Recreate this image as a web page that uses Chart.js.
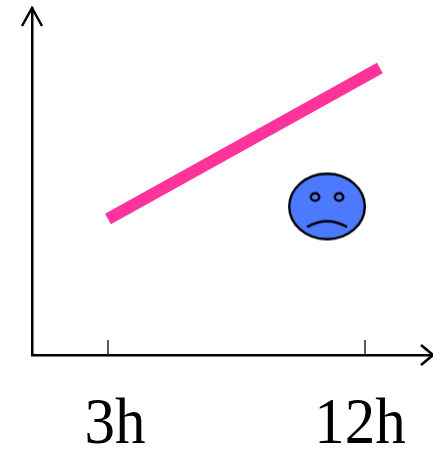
<!DOCTYPE html>
<html>
<head>
<meta charset="utf-8">
<script src="https://cdn.jsdelivr.net/npm/chart.js@4"></script>
<style>
  html, body { margin: 0; padding: 0; background: #fff; overflow: hidden; }
  canvas { display: block; }
</style>
</head>
<body>
<canvas id="myChart" width="433" height="449"></canvas>
<script>
const hours = [3, 12.52];
const values = [39.2, 82.7];
const faceHours = [10.67];
const faceValues = [42.8];
const tickHours = [3, 12];
const tickLabels = ['3h', '12h'];

// sad face used as the point image
const makeFace = () => {
	const c = document.createElement('canvas');
	c.width = 82;
	c.height = 72;
	const g = c.getContext('2d');
	g.translate(41, 36);
	g.lineWidth = 2.4;
	g.strokeStyle = '#000';
	g.fillStyle = '#4d79ff';
	g.beginPath();
	g.ellipse(0, 0, 37.8, 32.8, 0, 0, Math.PI * 2);
	g.fill();
	g.stroke();
	g.beginPath();
	g.ellipse(-12, -9.5, 4.2, 3.8, 0, 0, Math.PI * 2);
	g.stroke();
	g.beginPath();
	g.ellipse(12, -9.5, 4.2, 3.8, 0, 0, Math.PI * 2);
	g.stroke();
	g.beginPath();
	g.moveTo(-20, 20.5);
	g.quadraticCurveTo(0, 9, 20, 20.5);
	g.stroke();
	return c;
};

// inward ticks, the arrow heads and the hour labels
const axisExtras = {
	id: 'axisExtras',
	afterDraw(chart) {
		const { ctx, chartArea, scales } = chart;
		const base = chartArea.bottom;
		const left = chartArea.left;

		ctx.save();
		ctx.strokeStyle = '#222';
		ctx.lineWidth = 1.5;
		tickHours.forEach(h => {
			const x = scales.x.getPixelForValue(h);
			ctx.beginPath();
			ctx.moveTo(x, base);
			ctx.lineTo(x, base - 15);
			ctx.stroke();
		});

		ctx.strokeStyle = '#000';
		ctx.lineWidth = 2.5;
		ctx.beginPath();
		ctx.moveTo(left - 10, chartArea.top + 18);
		ctx.lineTo(left, chartArea.top);
		ctx.lineTo(left + 10, chartArea.top + 18);
		ctx.stroke();
		ctx.beginPath();
		ctx.moveTo(chartArea.right - 12, base - 10);
		ctx.lineTo(chartArea.right, base);
		ctx.lineTo(chartArea.right - 12, base + 10);
		ctx.stroke();

		// the reference text is a little stretched vertically
		ctx.fillStyle = '#000';
		ctx.font = '61px "Liberation Serif"';
		ctx.textAlign = 'center';
		ctx.textBaseline = 'alphabetic';
		const shift = [7, -5];
		tickLabels.forEach((t, i) => {
			ctx.save();
			ctx.translate(scales.x.getPixelForValue(tickHours[i]) + shift[i], 443);
			ctx.scale(1, 1.08);
			ctx.fillText(t, 0, 0);
			ctx.restore();
		});
		ctx.restore();
	}
};

new Chart(document.getElementById('myChart'), {
	type: 'scatter',
	data: {
		datasets: [
			{
				data: hours.map((h, i) => ({ x: h, y: values[i] })),
				showLine: true,
				borderColor: '#ff3399',
				borderWidth: 12,
				borderCapStyle: 'butt',
				pointRadius: 0
			},
			{
				data: faceHours.map((h, i) => ({ x: h, y: faceValues[i] })),
				pointStyle: makeFace(),
				pointRadius: 36
			}
		]
	},
	options: {
		responsive: false,
		animation: false,
		layout: { autoPadding: false, padding: { left: 32, top: 8, right: 0, bottom: 94 } },
		plugins: { legend: { display: false }, tooltip: { enabled: false } },
		scales: {
			x: {
				type: 'linear',
				min: 0.34,
				max: 14.38,
				grid: { drawOnChartArea: false, drawTicks: false },
				border: { color: '#000', width: 2.5 },
				ticks: { display: false }
			},
			y: {
				min: 0,
				max: 100,
				grid: { drawOnChartArea: false, drawTicks: false },
				border: { color: '#000', width: 2.5 },
				ticks: { display: false }
			}
		}
	},
	plugins: [axisExtras]
});
</script>
</body>
</html>
